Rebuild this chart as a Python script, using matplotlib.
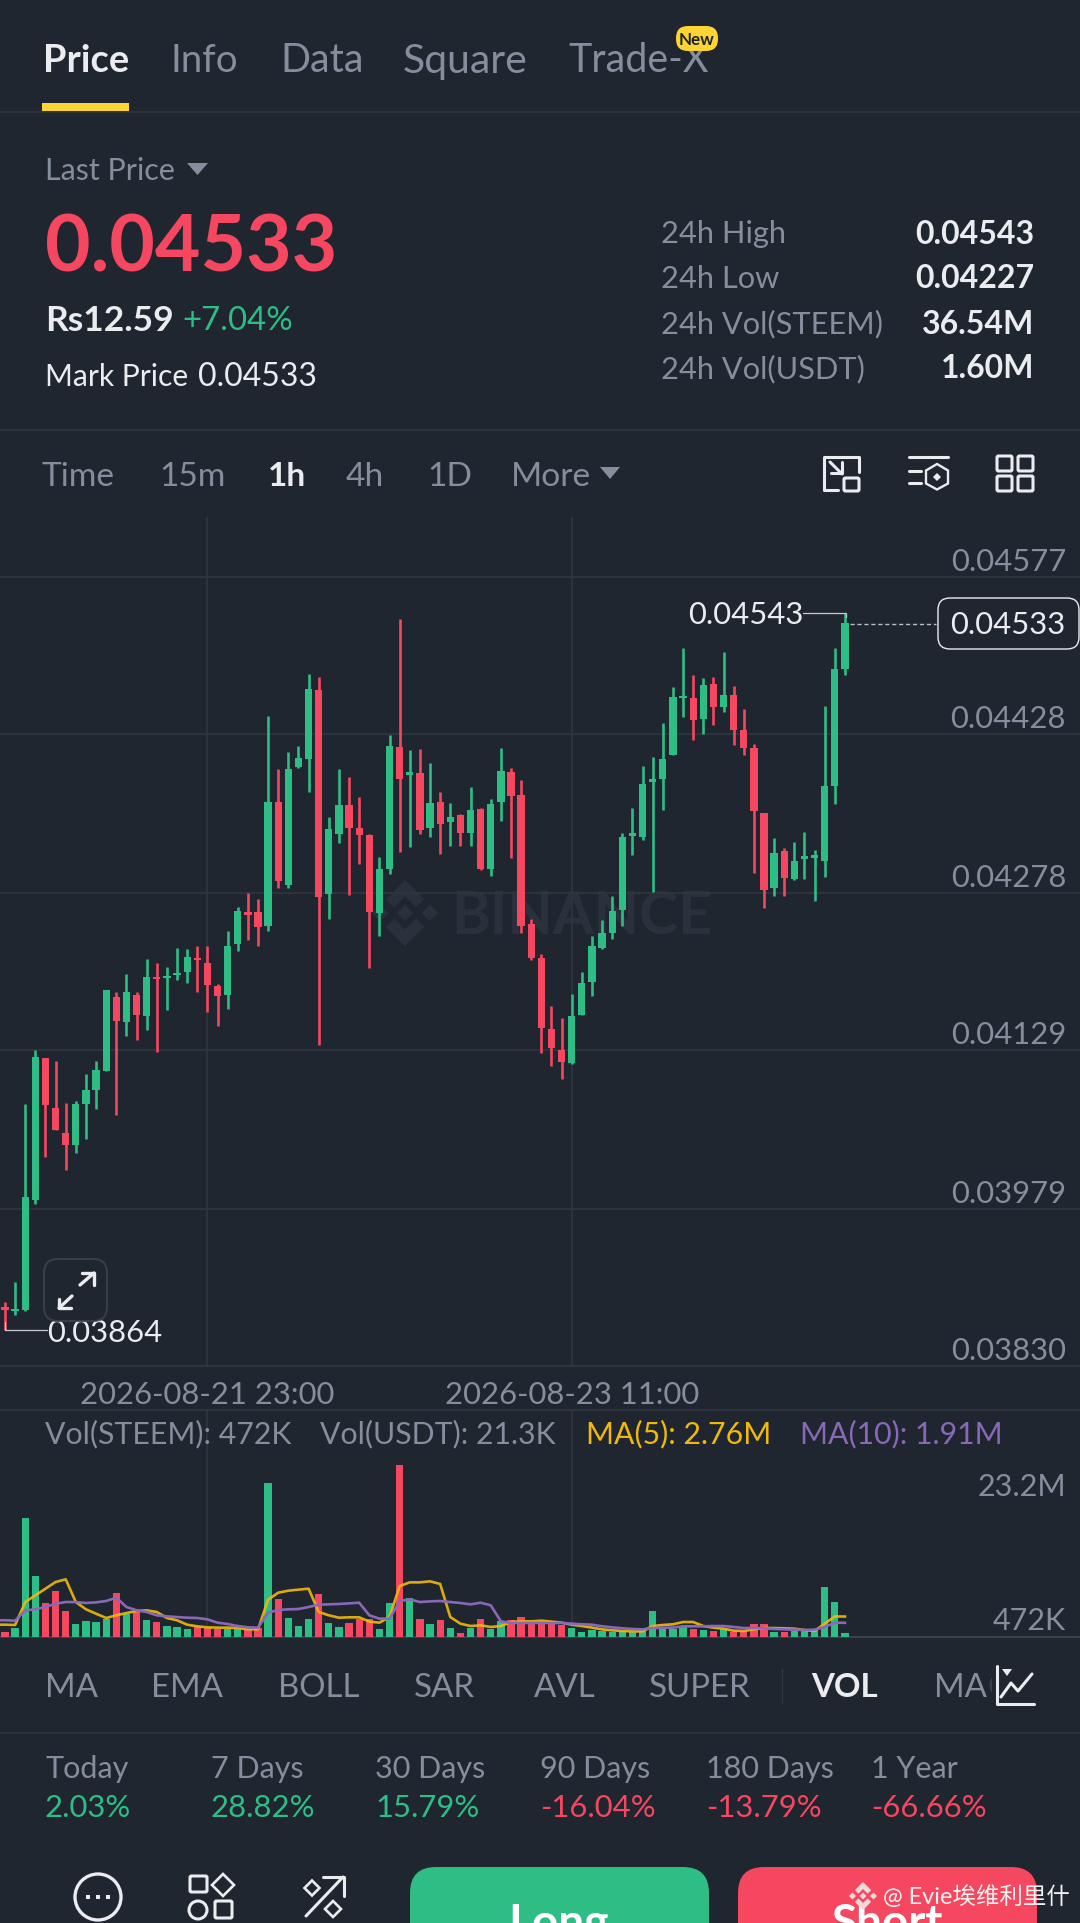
import matplotlib
matplotlib.use("Agg")
import matplotlib.pyplot as plt
from matplotlib.patches import FancyBboxPatch, Rectangle, Circle, Polygon
from matplotlib.transforms import ScaledTranslation
import numpy as np

plt.rcParams['font.family'] = ['Lato', 'Noto Sans CJK SC', 'DejaVu Sans']

# ---------- data ----------
price_scale = 1e-5
opens = [3885,3882,3883,3987,4122,4074,4051,4039,4078,4091,
         4109,4179,4156,4181,4161,4198,4197,4200,4203,4216,
         4212,4190,4181,4230,4259,4260,4247,4364,4285,4397,
         4405,4470,4277,4334,4361,4339,4333,4259,4301,4416,
         4390,4391,4339,4364,4345,4352,4335,4357,4301,4364,
         4392,4371,4248,4216,4149,4129,4117,4162,4194,4226,
         4240,4262,4332,4331,4383,4386,4408,4462,4462,4443,
         4476,4454,4465,4432,4415,4354,4283,4318,4291,4310,
         4311,4308,4379,4490]
closes = [3883,3884,3990,4123,4077,4053,4039,4078,4091,4110,
          4186,4157,4184,4162,4198,4196,4199,4202,4217,4214,
          4191,4180,4228,4261,4257,4246,4364,4289,4395,4406,
          4471,4274,4338,4361,4339,4333,4260,4301,4417,4386,
          4391,4337,4363,4343,4350,4335,4356,4301,4362,4393,
          4370,4247,4216,4150,4131,4118,4161,4193,4228,4240,
          4261,4331,4333,4381,4385,4405,4463,4464,4442,4475,
          4454,4465,4432,4415,4355,4281,4316,4292,4308,4311,
          4312,4379,4490,4533]
highs = [3891,3910,4078,4129,4122,4119,4079,4081,4106,4119,
         4186,4184,4201,4184,4215,4212,4208,4226,4225,4228,
         4228,4192,4242,4265,4278,4272,4445,4395,4411,4417,
         4485,4482,4350,4395,4388,4369,4334,4312,4427,4537,
         4413,4414,4401,4373,4363,4353,4378,4358,4367,4415,
         4396,4385,4253,4220,4171,4159,4182,4203,4237,4252,
         4275,4335,4358,4398,4407,4439,4473,4510,4484,4481,
         4482,4506,4474,4452,4419,4354,4330,4320,4326,4336,
         4319,4455,4510,4543]
lows = [3864,3878,3882,3983,4028,4053,4016,4032,4045,4073,
        4109,4068,4142,4139,4148,4127,4167,4195,4193,4184,
        4165,4152,4168,4223,4233,4228,4242,4283,4283,4396,
        4373,4134,4253,4325,4276,4305,4207,4237,4296,4317,
        4321,4334,4331,4315,4322,4322,4322,4300,4294,4346,
        4311,4240,4214,4126,4114,4102,4116,4162,4180,4225,
        4234,4247,4314,4328,4279,4356,4408,4444,4423,4428,
        4437,4449,4418,4408,4297,4264,4275,4275,4290,4291,
        4270,4293,4362,4484]
volumes = [0.67,1.21,16.0,8.17,4.62,6.24,3.50,1.80,2.20,2.07,
           2.47,5.88,3.05,3.37,2.29,2.07,1.44,1.39,1.03,1.35,
           1.21,1.12,1.12,1.12,1.03,1.21,20.7,5.16,2.60,1.48,
           2.38,5.79,1.89,1.30,1.89,2.38,2.47,1.12,4.62,23.2,
           5.25,2.47,1.80,2.33,1.21,0.58,1.21,2.47,1.08,2.20,
           2.25,2.74,1.75,1.93,2.11,1.66,1.26,0.67,0.90,0.76,
           0.63,0.76,0.63,0.90,3.46,1.12,1.08,1.30,1.12,0.90,
           0.81,1.12,0.67,0.85,1.75,1.75,0.67,0.67,0.81,0.81,
           0.94,6.78,4.71,0.472]
ma5 = [1.66,1.62,4.71,5.61,6.51,7.41,7.77,4.71,3.73,3.14,
       2.56,2.92,3.23,3.50,3.59,3.37,2.56,2.25,1.66,1.44,
       1.30,1.26,1.26,1.21,1.03,1.03,5.03,5.97,6.24,6.38,
       6.51,3.37,2.92,2.60,2.65,2.65,2.07,1.93,2.69,6.87,
       7.36,7.36,7.50,7.14,2.69,1.80,1.48,1.57,1.35,1.48,
       2.02,2.11,2.11,2.20,2.07,1.93,1.66,1.48,1.26,1.03,
       0.90,0.81,0.76,0.76,1.48,1.62,1.71,2.02,2.02,1.48,
       1.26,1.12,0.85,0.81,1.03,1.21,1.21,1.17,1.12,0.94,
       0.81,1.80,2.76,2.76]
ma10 = [2.25,2.20,3.59,3.73,4.04,4.49,4.71,4.71,4.58,4.67,
        4.85,5.30,4.04,3.59,3.37,2.92,2.78,2.69,2.60,2.56,
        2.38,1.93,1.75,1.48,1.30,1.26,3.28,3.64,3.73,3.77,
        4.04,4.36,4.40,4.45,4.53,4.62,2.92,2.47,2.47,4.85,
        5.07,4.71,4.80,4.85,4.71,4.58,4.40,4.62,4.27,2.11,
        1.89,1.89,1.89,1.89,1.89,1.89,1.80,1.71,1.66,1.44,
        1.30,1.17,1.08,1.03,1.21,1.26,1.26,1.44,1.44,1.44,
        1.48,1.48,1.35,1.21,1.21,1.17,1.08,1.03,0.99,0.94,
        0.99,1.35,1.93,1.91]
price_ticks = [0.04577, 0.04428, 0.04278, 0.04129, 0.03979, 0.03830]
time_ticks = [20, 56]
time_labels = ['2026-08-21 23:00', '2026-08-23 11:00']
vol_ticks = [23.2, 0.472]
vol_tick_labels = ['23.2M', '472K']
tabs = ['Price', 'Info', 'Data', 'Square', 'Trade-X']
stats_names = ['24h High', '24h Low', '24h Vol(STEEM)', '24h Vol(USDT)']
stats_values = ['0.04543', '0.04227', '36.54M', '1.60M']
frames = ['Time', '15m', '1h', '4h', '1D', 'More']
indicators = ['MA', 'EMA', 'BOLL', 'SAR', 'AVL', 'SUPER', 'VOL']
periods = ['Today', '7 Days', '30 Days', '90 Days', '180 Days', '1 Year']
period_values = ['2.03%', '28.82%', '15.79%', '-16.04%', '-13.79%', '-66.66%']

# ---------- style ----------
BG = '#1F2630'
GRID = '#2F3640'
GREEN = '#2EBD85'
RED = '#F5475F'
GRAY = '#848E9C'
WHITE = '#EAECEF'
YEL = '#F0B90B'
PUR = '#8A68B8'
W, H = 1080, 1924

fig = plt.figure(figsize=(W/100, H/100), dpi=100, facecolor=BG)

def rect_axes(x0, y0, x1, y1, z):
    a = fig.add_axes([x0/W, 1-y1/H, (x1-x0)/W, (y1-y0)/H], zorder=z)
    a.patch.set_visible(False)
    return a

def px_axes(z):
    a = rect_axes(0, 0, W, H, z)
    a.set_xlim(0, W); a.set_ylim(H, 0); a.axis('off')
    return a

bg = px_axes(0)
ui = px_axes(5)

def T(s, x, y, size, color=GRAY, weight='normal', ha='left', va='center', ax=None, **k):
    return (ax or ui).text(x, y, s, fontsize=size*0.72, color=color, fontweight=weight,
                           ha=ha, va=va, **k)

xlim = (-5/10.12, (W-5)/10.12)

def logo(a, cx, cy, r, color, z=1, alpha=1):
    shapes = [
        [(0,-.25),(.25,0),(0,.25),(-.25,0)],
        [(.75,-.25),(1,0),(.75,.25),(.5,0)],
        [(-.75,-.25),(-1,0),(-.75,.25),(-.5,0)],
        [(0,-1),(.58,-.42),(.33,-.17),(0,-.5),(-.33,-.17),(-.58,-.42)],
        [(0,1),(.58,.42),(.33,.17),(0,.5),(-.33,.17),(-.58,.42)],
    ]
    for s in shapes:
        a.add_patch(Polygon([(cx+p*r, cy+q*r) for p, q in s], closed=True, fc=color, ec='none',
                            zorder=z, alpha=alpha))

WM = '#2A313C'
logo(bg, 405, 914, 33, WM)
T('BINANCE', 451, 917, 59, WM, 'bold', ax=bg)

# ---------- price panel ----------
ax = rect_axes(0, 518, W, 1367, 1)
ax.set_xlim(*xlim)
ax.set_ylim(0.03830, 0.046338)
x = np.arange(len(opens))
o = np.array(opens)*price_scale; c = np.array(closes)*price_scale
hi = np.array(highs)*price_scale; lo = np.array(lows)*price_scale
cols = [GREEN if b >= a else RED for a, b in zip(opens, closes)]
ax.vlines(x, lo, hi, colors=cols, linewidth=1.9, zorder=3)
bh = np.maximum(np.abs(c-o), 2.4e-5)
ax.bar(x, bh, bottom=np.minimum(o, c), width=0.72, color=cols, zorder=4, linewidth=0)
for s in ax.spines.values():
    s.set_visible(False)
ax.spines['bottom'].set_visible(True); ax.spines['bottom'].set_color(GRID); ax.spines['bottom'].set_linewidth(1.2)
ax.set_xticks(time_ticks)
ax.set_xticklabels(time_labels, fontsize=31*0.72, color=GRAY)
ax.tick_params(axis='x', length=0, pad=10)
ax.yaxis.tick_right()
ax.set_yticks(price_ticks)
ax.set_yticklabels([f'{p:.5f}' for p in price_ticks], fontsize=31*0.72, color=GRAY)
ax.tick_params(axis='y', length=0, pad=-14*0.72)
off = ScaledTranslation(0, 2/100, fig.dpi_scale_trans)
for lab in ax.get_yticklabels():
    lab.set_ha('right'); lab.set_va('bottom')
    lab.set_transform(lab.get_transform()+off)
ax.grid(True, color=GRID, linewidth=1.2, zorder=0)
ax.set_axisbelow(True)

# ---------- volume panel ----------
av = rect_axes(0, 1411, W, 1638, 1)
av.set_xlim(*xlim)
av.set_ylim(0, 30.58)
av.bar(x, volumes, width=0.72, color=cols, linewidth=0, zorder=3)
av.plot(np.r_[-0.5, x], np.r_[ma5[0], ma5], color=YEL, linewidth=1.9, zorder=4, alpha=.9)
av.plot(np.r_[-0.5, x], np.r_[ma10[0], ma10], color=PUR, linewidth=1.9, zorder=5)
for s in av.spines.values():
    s.set_visible(False)
av.spines['bottom'].set_visible(True); av.spines['bottom'].set_color('#3A414C'); av.spines['bottom'].set_linewidth(1.5)
av.spines['top'].set_visible(True); av.spines['top'].set_color(GRID); av.spines['top'].set_linewidth(1.2)
av.set_xticks(time_ticks); av.set_xticklabels([])
av.tick_params(axis='x', length=0)
av.grid(True, axis='x', color=GRID, linewidth=1.2, zorder=0)
av.set_axisbelow(True)
av.yaxis.tick_right()
av.set_yticks(vol_ticks); av.set_yticklabels(vol_tick_labels, fontsize=30.5*0.72, color=GRAY)
av.tick_params(axis='y', length=0, pad=-14*0.72)
for lab, dy in zip(av.get_yticklabels(), (-21, 13)):
    lab.set_ha('right'); lab.set_va('center')
    lab.set_transform(lab.get_transform()+ScaledTranslation(0, dy/100, fig.dpi_scale_trans))

# ---------- header ----------
for s, xp, col, w, sz in zip(tabs, (43, 171, 280, 403, 568), (WHITE, GRAY, GRAY, GRAY, GRAY),
                             ('bold', 'normal', 'normal', 'normal', 'normal'), (38, 38.5, 39.5, 41, 39.5)):
    T(s, xp, 61, sz, col, w)
ui.add_patch(Rectangle((42, 104), 87, 8, fc='#FCD535', ec='none'))
ui.add_patch(FancyBboxPatch((682, 33), 30, 13, boxstyle='round,pad=6,rounding_size=12', fc='#FCD535', ec='none', zorder=6))
T('New', 697, 40, 17, '#1E2329', 'bold', ha='center', zorder=7)
ui.plot([0, W], [113, 113], color=GRID, lw=1.2)
ui.plot([0, W], [431, 431], color=GRID, lw=1.2)

T('Last Price', 45, 171, 30.5)
ui.add_patch(Polygon([(187, 164), (208, 164), (197.5, 176)], fc=GRAY, ec='none'))
T('0.04533', 45, 249, 78.6, RED, 'bold')
T('Rs12.59', 45, 321, 35.4, WHITE, 'bold')
T('+7.04%', 182, 321, 33, GREEN)
T('Mark Price', 45, 377, 30, WHITE)
T('0.04533', 198, 377, 32, WHITE)
for s, v, yy in zip(stats_names, stats_values, (234, 279, 324, 369)):
    T(s, 661, yy, 30.8)
    T(v, 1034, yy, 32, WHITE, 'bold', ha='right')

for s, xp in zip(frames, (42, 159, 268, 346, 427, 511)):
    T(s, xp, 477, 33.5, WHITE if s == '1h' else GRAY, 'bold' if s == '1h' else 'normal')
ui.add_patch(Polygon([(600, 468), (620, 468), (610, 480)], fc=GRAY, ec='none'))

def box(a, x0, y0, x1, y1, lw=2.2, col=WHITE, r=1.5, z=6, fc='none'):
    a.add_patch(FancyBboxPatch((x0+r, y0+r), x1-x0-2*r, y1-y0-2*r, boxstyle=f'round,pad={r},rounding_size={r}',
                               fc=fc, ec=col, lw=lw, zorder=z))
def ln(a, xs, ys, lw=2.2, col=WHITE, z=6):
    a.plot(xs, ys, color=col, lw=lw, zorder=z, solid_capstyle='round', solid_joinstyle='round')
def dia(a, cx, cy, r, lw=1.9, fc='none'):
    a.add_patch(Polygon([(cx, cy-r), (cx+r, cy), (cx, cy+r), (cx-r, cy)], fc=fc, ec=WHITE if fc == 'none' else 'none', lw=lw, zorder=6))

# toolbar icons
ln(ui, [859, 859, 824, 824, 838], [473, 458, 458, 491, 491])
box(ui, 844, 479, 859, 492)
ln(ui, [830, 842], [463, 475]); ln(ui, [831, 842, 842], [474, 474, 463])
ln(ui, [909, 948], [458, 458]); ln(ui, [909, 921], [472, 472]); ln(ui, [909, 921], [484, 484])
ui.add_patch(Polygon([(937, 465), (948, 471.5), (948, 484.5), (937, 490.5), (926, 484.5), (926, 471.5)], fc='none', ec=WHITE, lw=1.7))
dia(ui, 937, 478, 4, fc=WHITE)
for xx, yy in ((997, 457), (1018, 457), (997, 477), (1018, 477)):
    box(ui, xx, yy, xx+15, yy+15)

# chart annotations
T('0.04543', 688, 615, 31, WHITE)
ln(ui, [803, 846, 846], [614, 614, 618], lw=0.9, col='#C8CCD2')
ui.plot([850, 936], [625, 625], color='#B7BDC6', lw=1, ls=(0, (3, 2)))
ui.add_patch(FancyBboxPatch((948, 609), 121, 31, boxstyle='round,pad=10,rounding_size=12', fc=BG, ec=WHITE, lw=1, zorder=6))
T('0.04533', 1008, 625, 31, WHITE, ha='center', zorder=7)
T('0.03864', 47, 1333, 31, WHITE)
ln(ui, [5, 5, 47], [1323, 1331, 1331], lw=0.9, col='#C8CCD2')
ui.add_patch(FancyBboxPatch((52, 1268), 47, 46, boxstyle='round,pad=8,rounding_size=14', fc=BG, ec='#3A414C', lw=1.5, zorder=6, alpha=.9))
ln(ui, [59, 72], [1309, 1297], lw=2.4); ln(ui, [59, 59, 71], [1300, 1309, 1309], lw=2.4)
ln(ui, [80, 94], [1286, 1274], lw=2.4); ln(ui, [82, 94, 94], [1274, 1274, 1286], lw=2.4)

# volume legend
T('Vol(STEEM): 472K', 45, 1434, 30.3)
T('Vol(USDT): 21.3K', 320, 1434, 30.3)
T('MA(5): 2.76M', 586, 1434, 30.3, YEL)
T('MA(10): 1.91M', 800, 1434, 30.3, PUR)

# indicator row
for s, xp in zip(indicators, (45, 151, 278, 414, 534, 649, 811)):
    T(s, xp, 1688, 33, WHITE if s == 'VOL' else GRAY, 'bold' if s == 'VOL' else 'normal')
T('MA', 934, 1688, 33, GRAY)
T('C', 987, 1688, 33, '#3A414C')
ln(ui, [782, 782], [1670, 1704], lw=1, col=GRID)
ui.add_patch(Rectangle((992, 1660), 50, 50, fc=BG, ec='none', zorder=5))
ln(ui, [997, 997, 1034], [1667, 1705, 1705])
ln(ui, [1001, 1011, 1018, 1032], [1698, 1684, 1692, 1675])
ui.add_patch(Polygon([(1002, 1670), (1012, 1670), (1007, 1677)], fc=WHITE, ec='none', zorder=6))
ui.plot([0, W], [1734, 1734], color=GRID, lw=1.2)

for s, v, xp in zip(periods, period_values, (45, 211, 375, 540, 706, 871)):
    T(s, xp, 1769, 30.5)
    T(v, xp, 1808, 31, RED if v.startswith('-') else GREEN)

# bottom bar
ui.add_patch(Circle((98, 1898), 23, fc='none', ec=WHITE, lw=2.4))
for dx in (-10, 0, 10):
    ui.add_patch(Rectangle((98+dx-2.2, 1895.8), 4.4, 4.4, fc=WHITE, ec='none'))
box(ui, 190, 1877, 207, 1893)
dia(ui, 223, 1886, 11)
ui.add_patch(Circle((198, 1911), 9, fc='none', ec=WHITE, lw=2.2))
box(ui, 215, 1902, 232, 1919)
ln(ui, [306, 343], [1917, 1878]); ln(ui, [323, 344, 344], [1878, 1878, 1897])
dia(ui, 312, 1889, 7.5)
dia(ui, 333, 1910, 8)

ui.add_patch(FancyBboxPatch((436, 1894), 247, 120, boxstyle='round,pad=26,rounding_size=26', fc=GREEN, ec='none', zorder=5))
ui.add_patch(FancyBboxPatch((764, 1894), 247, 120, boxstyle='round,pad=26,rounding_size=26', fc=RED, ec='none', zorder=5))
T('Long', 559, 1903, 46, 'white', 'bold', ha='center', va='top', zorder=6)
T('Short', 888, 1903, 46, 'white', 'bold', ha='center', va='top', zorder=6)

logo(ui, 863, 1897, 14, '#F4D9D9', z=8)
T('@ Evie埃维利里什', 883, 1897, 23.5, '#F2F2F2', zorder=8)

fig.savefig('out.png', dpi=100, facecolor=BG)
